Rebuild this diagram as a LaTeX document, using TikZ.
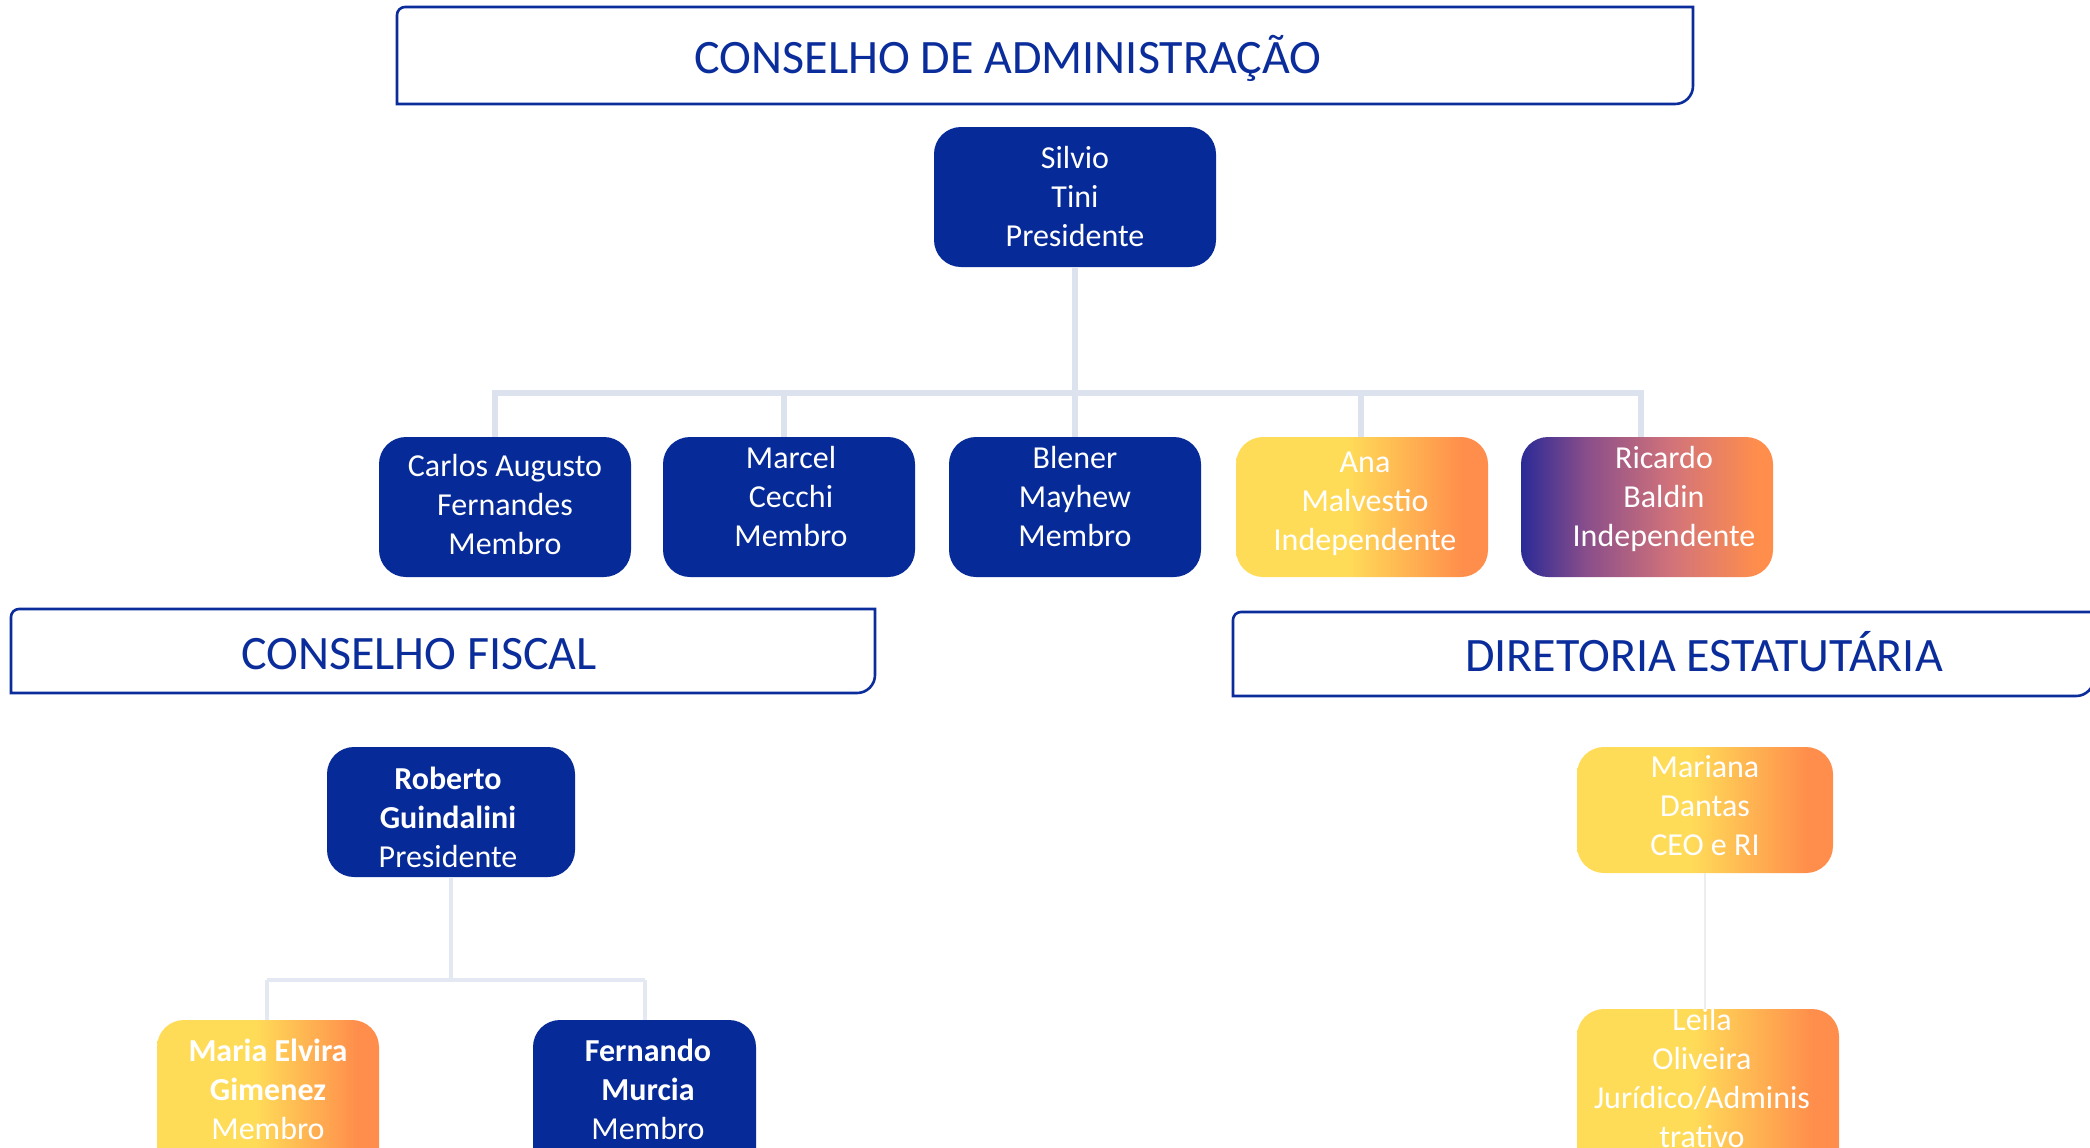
\documentclass[tikz,border=0pt]{standalone}
\usepackage{fontspec}
\setmainfont{Carlito}
\definecolor{navy}{HTML}{062A98}
\definecolor{hdrblue}{HTML}{0A2D9B}
\definecolor{cY}{HTML}{FFDC58}
\definecolor{cO}{HTML}{FF8E4C}
\definecolor{cN}{HTML}{2A2A96}
\definecolor{cP}{HTML}{8A4E8A}
\definecolor{cR}{HTML}{D2737A}
\definecolor{lineA}{HTML}{DDE3EE}
\definecolor{lineB}{HTML}{E3E8F2}
\definecolor{lineC}{HTML}{EDEDED}
\pgfdeclarehorizontalshading{yo}{100bp}{color(0bp)=(cY); color(25bp)=(cY); color(47bp)=(cY); color(70bp)=(cO); color(75bp)=(cO); color(100bp)=(cO)}
\pgfdeclarehorizontalshading{no}{100bp}{color(0bp)=(cN); color(25bp)=(cN); color(38bp)=(cP); color(55bp)=(cR); color(72bp)=(cO); color(75bp)=(cO); color(100bp)=(cO)}
\tikzset{
  bx/.style={rounded corners=13.5pt, inner sep=0pt, draw=none},
  navybox/.style={bx, fill=navy},
  yobox/.style={bx, shading=yo},
  nobox/.style={bx, shading=no},
  txt/.style={text=white, align=center, font=\fontsize{16}{19.5}\selectfont, inner sep=0pt},
  hdr/.style={draw=hdrblue, line width=1.3pt},
  hdrtxt/.style={text=hdrblue, font=\fontsize{24}{28}\selectfont, inner sep=0pt},
  connA/.style={draw=lineA, line width=3.2pt},
  connB/.style={draw=lineB, line width=1.6pt},
  connC/.style={draw=lineC, line width=1.2pt},
}
\begin{document}
\begin{tikzpicture}[x=0.5pt, y=-0.5pt]
\useasboundingbox[fill=white] (0,0) rectangle (2090,1147);
% headers
\draw[hdr] (397,104) [rounded corners=4pt] -- (397,7) [sharp corners] -- (1693,7) [rounded corners=9pt] -- (1693,104) [sharp corners] -- cycle;
\node[hdrtxt] (h1) at (1008,58) {CONSELHO DE ADMINISTRAÇÃO};
\draw[hdr] (11,693) [rounded corners=4pt] -- (11,609) [sharp corners] -- (875,609) [rounded corners=9pt] -- (875,693) [sharp corners] -- cycle;
\node[hdrtxt] (h2) at (419,654) {CONSELHO FISCAL};
\draw[hdr] (1233,696) [rounded corners=4pt] -- (1233,612) [sharp corners] -- (2094,612) [rounded corners=9pt] -- (2094,696) [sharp corners] -- cycle;
\node[hdrtxt] (h3) at (1704,652) {DIRETORIA ESTATUTÁRIA};

% boxes
\node[navybox, minimum width=141pt, minimum height=70pt] (silvio) at (1075,197) {};
\node[navybox, minimum width=126pt, minimum height=70pt] (carlos) at (505,507) {};
\node[navybox, minimum width=126pt, minimum height=70pt] (marcel) at (789,507) {};
\node[navybox, minimum width=126pt, minimum height=70pt] (blener) at (1075,507) {};
\node[yobox, minimum width=126pt, minimum height=70pt] (ana) at (1362,507) {};
\node[nobox, minimum width=126pt, minimum height=70pt] (ricardo) at (1647,507) {};
\node[navybox, minimum width=124pt, minimum height=65pt] (roberto) at (451,812) {};
\node[yobox, minimum width=111pt, minimum height=80pt] (maria) at (268,1100) {};
\node[navybox, minimum width=111.5pt, minimum height=80pt] (fernando) at (644.5,1100) {};
\node[yobox, minimum width=128pt, minimum height=63pt] (mariana) at (1705,810) {};
\node[yobox, minimum width=131pt, minimum height=85pt] (leila) at (1708,1094) {};

% texts
\node[txt] (tsilvio) at (1075,196) {Silvio\\Tini\\Presidente};
\node[txt] (tcarlos) at (505,504) {Carlos Augusto\\Fernandes\\Membro};
\node[txt] (tmarcel) at (791,496) {Marcel\\Cecchi\\Membro};
\node[txt] (tblener) at (1075,496) {Blener\\Mayhew\\Membro};
\node[txt] (tana) at (1365,504) {Ana\\Malvestio\\Independente};
\node[txt] (tricardo) at (1664,499) {Ricardo\\Baldin\\Independente};
\node[txt] (troberto) at (448,817) {\textbf{Roberto}\\\textbf{Guindalini}\\Presidente};
\node[txt] (tmaria) at (268,1089) {\textbf{Maria Elvira}\\\textbf{Gimenez}\\Membro};
\node[txt] (tfernando) at (648,1089) {\textbf{Fernando}\\\textbf{Murcia}\\Membro};
\node[txt] (tmariana) at (1705,806) {Mariana\\Dantas\\CEO e RI};
\node[txt] (tleila) at (1702,1078) {Leila\\Oliveira\\Jurídico/Adminis\\trativo};

% connectors: conselho de administracao
\coordinate (busL) at (495,393);
\coordinate (busR) at (1641,393);
\draw[connA] (silvio.south) -- (silvio.south |- busL);
\draw[connA, line cap=rect] (busL) -- (busR);
\draw[connA] (busL) -- (busL |- carlos.north);
\draw[connA] (784,393) -- (marcel.north -| 784,0);
\draw[connA] (blener.north |- busL) -- (blener.north);
\draw[connA] (1361,393) -- (ana.north -| 1361,0);
\draw[connA] (busR) -- (busR |- ricardo.north);

% conselho fiscal
\coordinate (fbusL) at (267,980);
\coordinate (fbusR) at (645,980);
\draw[connB] (roberto.south) -- (roberto.south |- fbusL);
\draw[connB] (fbusL) -- (fbusR);
\draw[connB] (fbusL) -- (fbusL |- maria.north);
\draw[connB] (fbusR) -- (fbusR |- fernando.north);

% diretoria
\draw[connC] (mariana.south) -- (mariana.south |- leila.north);
\end{tikzpicture}
\end{document}
